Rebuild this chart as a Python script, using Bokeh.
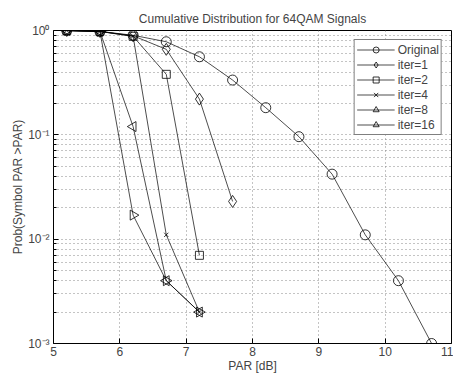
import math
from bokeh.plotting import figure
from bokeh.embed import file_html
from bokeh.resources import INLINE
from bokeh.models import FixedTicker, CustomJSTickFormatter, Legend, LegendItem, Range1d

# data
orig_x = [5.2, 5.7, 6.2, 6.7, 7.2, 7.7, 8.2, 8.7, 9.2, 9.7, 10.2, 10.7]
orig_y = [1.0, 0.98, 0.9, 0.78, 0.56, 0.335, 0.182, 0.096, 0.042, 0.011, 0.004, 0.001]
it1_x = [5.2, 5.7, 6.2, 6.7, 7.2, 7.7]
it1_y = [1.0, 0.98, 0.89, 0.66, 0.22, 0.023]
it2_x = [5.2, 5.7, 6.2, 6.7, 7.2]
it2_y = [1.0, 0.98, 0.88, 0.38, 0.007]
it4_x = [5.2, 5.7, 6.2, 6.7, 7.2]
it4_y = [1.0, 0.98, 0.88, 0.011, 0.002]
it8_x = [5.2, 5.7, 6.2, 6.7, 7.2]
it8_y = [1.0, 0.98, 0.12, 0.004, 0.002]
it16_x = [5.2, 5.7, 6.2, 6.7, 7.2]
it16_y = [1.0, 0.98, 0.017, 0.004, 0.002]
x_ticks = [5, 6, 7, 8, 9, 10, 11]
y_ticks = [0.001, 0.01, 0.1, 1]

FONT = "Liberation Sans"

p = figure(frame_width=398, frame_height=313, y_axis_type="log",
           x_range=Range1d(5, 11), y_range=Range1d(0.001, 1),
           output_backend="svg", toolbar_location=None,
           title="Cumulative Distribution for 64QAM Signals",
           min_border_left=53, min_border_right=2, min_border_top=30, min_border_bottom=31)
p.title.align = "center"
p.title.text_font = FONT
p.title.text_font_style = "normal"
p.title.text_font_size = "12px"
p.title.offset = 0

p.outline_line_color = "black"
p.outline_line_width = 1
p.background_fill_color = "white"

p.xaxis.ticker = FixedTicker(ticks=x_ticks)
p.xaxis.axis_label = "PAR [dB]"
p.yaxis.axis_label = "Prob(Symbol PAR >PAR)"
p.yaxis.ticker = FixedTicker(ticks=y_ticks,
                             minor_ticks=[m * 10 ** e for e in (-3, -2, -1) for m in range(2, 10)])
p.yaxis.formatter = CustomJSTickFormatter(code="""
const e = Math.round(Math.log10(tick));
const sup = {'-':'\u207b','0':'\u2070','1':'\u00b9','2':'\u00b2','3':'\u00b3'};
return '10' + String(e).split('').map(c => sup[c]).join('');
""")
for ax in (p.xaxis[0], p.yaxis[0]):
    ax.axis_line_color = None
    ax.major_tick_in = 5
    ax.major_tick_out = 0
    ax.minor_tick_in = 3
    ax.minor_tick_out = 0
    ax.major_label_text_font = FONT
    ax.major_label_text_font_size = "12px"
    ax.axis_label_text_font = FONT
    ax.axis_label_text_font_size = "12px"
    ax.axis_label_text_font_style = "normal"
    ax.major_label_standoff = 3
    ax.axis_label_standoff = 0
p.yaxis.major_label_standoff = 4
p.xaxis.minor_tick_line_color = None

p.xgrid.ticker = FixedTicker(ticks=x_ticks)
p.xgrid.grid_line_color = "#888888"
p.xgrid.grid_line_dash = "1 3"
p.ygrid.grid_line_color = "#888888"
p.ygrid.grid_line_dash = "1 3"
p.ygrid.minor_grid_line_color = "#888888"
p.ygrid.minor_grid_line_dash = "1 3"

series = [
    ("Original", orig_x, orig_y, "circle", 0, 10),
    ("iter=1", it1_x, it1_y, "diamond", 0, 12),
    ("iter=2", it2_x, it2_y, "square", 0, 8),
    ("iter=4", it4_x, it4_y, "x", 0, 6),
    ("iter=8", it8_x, it8_y, "triangle", math.pi / 2, 10),
    ("iter=16", it16_x, it16_y, "triangle", -math.pi / 2, 10),
]
items = []
for name, xs, ys, mk, ang, sz in series:
    l = p.line(xs, ys, line_color="black", line_width=0.7)
    s = p.scatter(xs, ys, marker=mk, angle=ang, size=sz, line_color="black",
                  fill_color=None, line_width=0.8)
    items.append(LegendItem(label=name, renderers=[l, s]))

leg = Legend(items=items, location="top_right")
leg.label_text_font = FONT
leg.label_text_font_size = "12px"
leg.glyph_width = 38
leg.glyph_height = 15
leg.spacing = 0
leg.padding = 2
leg.margin = 9
leg.label_standoff = 3
leg.label_height = 15
leg.border_line_color = "black"
leg.border_line_width = 1
leg.background_fill_alpha = 1
p.add_layout(leg)

open("out.html", "w").write(file_html(p, INLINE))
